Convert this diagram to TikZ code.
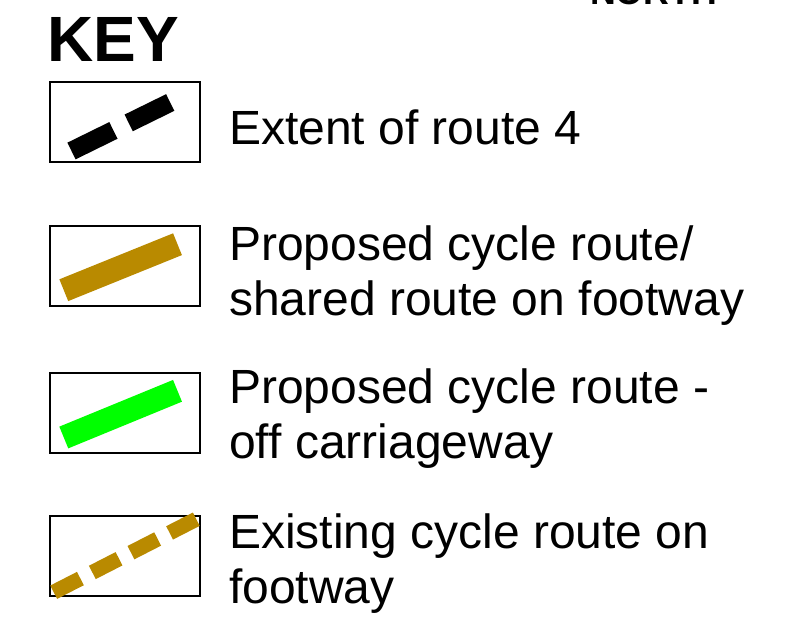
\documentclass[tikz,border=0pt]{standalone}
\usepackage{fontspec}
\setmainfont{Liberation Sans}
\definecolor{routegold}{RGB}{185,138,0}
\definecolor{routegreen}{RGB}{0,255,0}

\begin{document}
\begin{tikzpicture}[x=1pt, y=-1pt,
    keybox/.style={draw, line width=1.5pt, minimum width=150pt, minimum height=80pt, inner sep=0pt},
    keytext/.style={anchor=base west, align=left, inner sep=0pt, font=\fontsize{48}{55}\selectfont},
    heading/.style={anchor=base west, inner sep=0pt},
  ]
  \useasboundingbox (0,0) rectangle (796,630);
  \clip (0,0) rectangle (796,630);

  % headings
  \node[heading, font=\bfseries\fontsize{35.7}{40}\selectfont] (north) at (590,4) {NORTH};
  \node[heading, font=\bfseries\fontsize{64}{70}\selectfont] (key) at (47,61) {KEY};

  % boxes
  \node[keybox] (box1) at (125,122) {};
  \node[keybox] (box2) at (125,266) {};
  \node[keybox] (box3) at (125,413) {};
  \node[keybox] (box4) at (125,556) {};

  % symbols
  \coordinate (r4a) at (71.5,151);
  \coordinate (r4b) at (170.2,102.5);
  \coordinate (sha) at (63.8,290.2);
  \coordinate (shb) at (177.5,244.2);
  \coordinate (ofa) at (63.8,437.5);
  \coordinate (ofb) at (177.5,390.8);
  \coordinate (exa) at (53.7,592.2);
  \coordinate (exb) at (196.3,519.2);

  \draw[line width=18.6pt, dash pattern=on 46.7pt off 17pt] (r4a) -- (r4b);
  \draw[line width=23.5pt, routegold] (sha) -- (shb);
  \draw[line width=23.5pt, routegreen] (ofa) -- (ofb);
  \draw[line width=15pt, routegold, dash pattern=on 30pt off 13.4pt] (exa) -- (exb);

  % labels (base is the last line)
  \node[keytext] (t1) at (229,144) {Extent of route 4};
  \node[keytext] (t2) at (229,315) {Proposed cycle route/\\shared route on footway};
  \node[keytext] (t3) at (229,458) {Proposed cycle route -\\off carriageway};
  \node[keytext] (t4) at (229,603) {Existing cycle route on\\footway};

\end{tikzpicture}
\end{document}
